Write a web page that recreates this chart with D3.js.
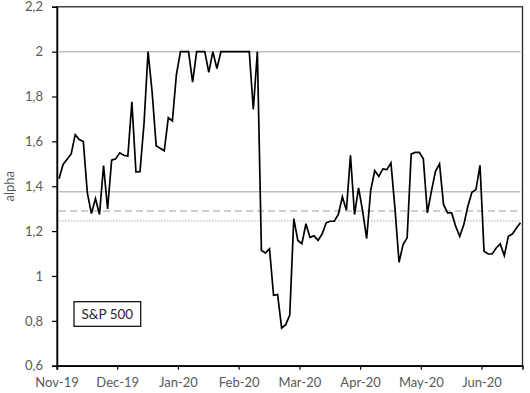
<!DOCTYPE html>
<html>
<head>
<meta charset="utf-8">
<script src="https://cdn.jsdelivr.net/npm/d3@7"></script>
<style>
  html, body { margin: 0; padding: 0; background: #fff; }
  svg { display: block; }
  text { font-family: Lato, "Open Sans", sans-serif; }
</style>
</head>
<body>
<svg id="chart" width="530" height="393"></svg>
<script>
// ---- data ----
const monthLabels = ["Nov-19","Dec-19","Jan-20","Feb-20","Mar-20","Apr-20","May-20","Jun-20"];
const pointsPerLabel = 15;
const alphaValues = [
  1.433,1.497,1.52,1.544,1.630,1.608,1.599,1.370,1.278,1.345,
  1.274,1.492,1.299,1.516,1.522,1.549,1.538,1.534,1.776,1.464,
  1.465,1.68,2.0,1.82,1.581,1.569,1.558,1.706,1.691,1.898,
  2.0,2.0,2.0,1.864,2.0,2.0,2.0,1.908,2.0,1.925,
  2.0,2.0,2.0,2.0,2.0,2.0,2.0,2.0,1.742,2.0,
  1.114,1.103,1.121,0.914,0.917,0.768,0.783,0.826,1.256,1.158,
  1.144,1.233,1.172,1.179,1.159,1.187,1.237,1.244,1.244,1.274,
  1.353,1.293,1.538,1.274,1.393,1.29,1.167,1.382,1.470,1.444,
  1.477,1.474,1.504,1.30,1.061,1.140,1.170,1.543,1.551,1.551,
  1.522,1.281,1.378,1.467,1.500,1.318,1.281,1.281,1.221,1.177,
  1.229,1.311,1.373,1.385,1.493,1.110,1.098,1.098,1.125,1.143,
  1.091,1.177,1.187,1.214,1.237
];
const yTickValues = [0.6,0.8,1,1.2,1.4,1.6,1.8,2,2.2];
const refSolid = [2.0, 1.375];
const refDashed = 1.29;
const refDotted = 1.245;
const boxLabel = "S&P 500";
const yTitle = "alpha";

// ---- layout ----
const svg = d3.select("#chart");
const pL = 57, pR = 522.5, pT = 6.8, pB = 365.7;

const idx = d3.range(alphaValues.length);
const x = d3.scaleBand().domain(idx).range([pL, pR]).padding(0);
const cx = i => x(i) + x.bandwidth() / 2;
const y = d3.scaleLinear().domain([0.6, 2.2]).range([pB, pT]);

const loc = d3.formatLocale({decimal: ",", thousands: ".", grouping: [3], currency: ["", ""]});
const fmt = loc.format(".1~f");

// plot border
svg.append("rect")
  .attr("x", pL).attr("y", pT)
  .attr("width", pR - pL).attr("height", pB - pT)
  .attr("fill", "none").attr("stroke", "#262626").attr("stroke-width", 1.3);

// reference lines
const x0 = cx(0), x1 = cx(alphaValues.length - 1);
refSolid.forEach(v => {
  svg.append("line").attr("x1", x0).attr("x2", x1)
    .attr("y1", y(v)).attr("y2", y(v))
    .attr("stroke", "#bfbfbf").attr("stroke-width", 1.5);
});
svg.append("line").attr("x1", x0).attr("x2", x1)
  .attr("y1", y(refDashed)).attr("y2", y(refDashed))
  .attr("stroke", "#bfbfbf").attr("stroke-width", 1.5)
  .attr("stroke-dasharray", "7,4");
svg.append("line").attr("x1", x0).attr("x2", x1)
  .attr("y1", y(refDotted)).attr("y2", y(refDotted))
  .attr("stroke", "#c8c8c8").attr("stroke-width", 1.3)
  .attr("stroke-dasharray", "1.5,1.5");

// data line
const line = d3.line().x((d, i) => cx(i)).y(d => y(d));
svg.append("path").datum(alphaValues)
  .attr("d", line)
  .attr("fill", "none").attr("stroke", "#000").attr("stroke-width", 1.7)
  .attr("stroke-linejoin", "miter");

// y axis
const yAxis = d3.axisLeft(y).tickValues(yTickValues).tickFormat(fmt).tickSize(5).tickPadding(9);
const gy = svg.append("g").attr("transform", `translate(${pL},0)`).call(yAxis);
gy.select(".domain").attr("stroke", "#000").attr("stroke-width", 1.5);
gy.selectAll(".tick line").attr("stroke", "#000").attr("stroke-width", 1.2);
gy.selectAll(".tick text").attr("fill", "#595959").style("font-size", "13px");

// x axis
const tickIdx = monthLabels.map((m, i) => i * pointsPerLabel);
const xAxis = d3.axisBottom(x).tickValues(tickIdx)
  .tickFormat((d) => monthLabels[d / pointsPerLabel]).tickSize(4).tickPadding(8);
const gx = svg.append("g").attr("transform", `translate(0,${pB})`).call(xAxis);
gx.selectAll(".tick").attr("transform", d => `translate(${x(d)},0)`);
gx.select(".domain").attr("stroke", "#000").attr("stroke-width", 1.5);
gx.selectAll(".tick line").attr("stroke", "#000").attr("stroke-width", 1.2);
gx.selectAll(".tick text").attr("fill", "#595959").style("font-size", "13px");

// y title
svg.append("text")
  .attr("transform", `translate(14,${(pT + pB) / 2}) rotate(-90)`)
  .attr("text-anchor", "middle")
  .attr("fill", "#595959").style("font-size", "13px")
  .text(yTitle);

// label box
const bx = 74, by = 301.7, bw = 66.7, bh = 24.6;
svg.append("rect").attr("x", bx).attr("y", by).attr("width", bw).attr("height", bh)
  .attr("fill", "#fff").attr("stroke", "#000").attr("stroke-width", 1.2);
svg.append("text").attr("x", bx + bw / 2).attr("y", by + bh / 2)
  .attr("text-anchor", "middle").attr("dominant-baseline", "central")
  .attr("fill", "#262626").style("font-size", "13.5px")
  .text(boxLabel);
</script>
</body>
</html>
